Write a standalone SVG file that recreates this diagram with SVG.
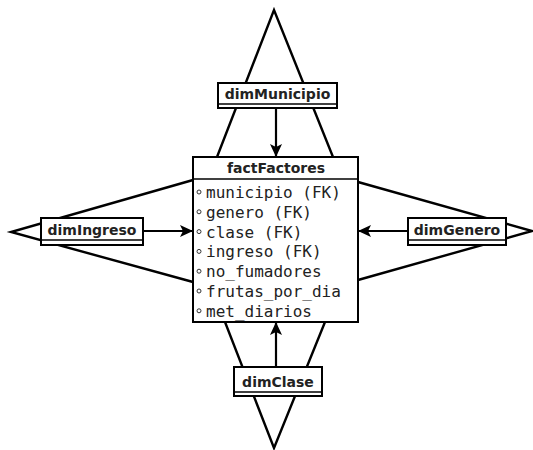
<svg xmlns="http://www.w3.org/2000/svg" width="533" height="450" viewBox="0 0 533 450">
  <defs>
    <style>
      .leg { fill: none; stroke: #000; stroke-width: 2.4; stroke-linejoin: miter; }
      .arr { fill: none; stroke: #000; stroke-width: 2.2; }
      .box { fill: #fff; stroke: #000; stroke-width: 2; }
      .sep { stroke: #000; stroke-width: 1.6; }
      .title { font-family: "DejaVu Sans", "Liberation Sans", sans-serif; font-weight: bold; font-size: 14px; fill: #222; text-anchor: middle; }
      .attr { font-family: "DejaVu Sans Mono", "Liberation Mono", monospace; font-size: 16px; fill: #222; }
      .dot { fill: #fff; stroke: #333; stroke-width: 1; }
    </style>
    <marker id="ah" markerWidth="14" markerHeight="12" refX="13" refY="6" orient="auto" markerUnits="userSpaceOnUse">
      <path d="M0,0 L13,6 L0,12 L3,6 Z" fill="#000"/>
    </marker>
  </defs>
  <rect width="533" height="450" fill="#fff"/>

  <g id="connectors">
    <polyline class="leg" points="217,157 274,10 333,157"/>
    <polyline class="leg" points="193,180 11,232 193,282"/>
    <polyline class="leg" points="358,182 532,231 358,280"/>
    <polyline class="leg" points="225,322 274,448 325,322"/>
    <line class="arr" x1="276" y1="108" x2="276" y2="157" marker-end="url(#ah)"/>
    <line class="arr" x1="276" y1="367" x2="276" y2="322" marker-end="url(#ah)"/>
    <line class="arr" x1="143" y1="231" x2="193" y2="231" marker-end="url(#ah)"/>
    <line class="arr" x1="408" y1="231" x2="358" y2="231" marker-end="url(#ah)"/>
  </g>

  <g id="factFactores">
    <rect class="box" x="193" y="157" width="165" height="165"/>
    <line class="sep" x1="193" y1="179" x2="358" y2="179"/>
    <text class="title" x="276" y="173">factFactores</text>
    <circle class="dot" cx="199" cy="192" r="2"/>
    <text class="attr" x="206" y="198">municipio (FK)</text>
    <circle class="dot" cx="199" cy="211.8" r="2"/>
    <text class="attr" x="206" y="217.8">genero (FK)</text>
    <circle class="dot" cx="199" cy="231.6" r="2"/>
    <text class="attr" x="206" y="237.6">clase (FK)</text>
    <circle class="dot" cx="199" cy="251.4" r="2"/>
    <text class="attr" x="206" y="257.4">ingreso (FK)</text>
    <circle class="dot" cx="199" cy="271.2" r="2"/>
    <text class="attr" x="206" y="277.2">no_fumadores</text>
    <circle class="dot" cx="199" cy="291" r="2"/>
    <text class="attr" x="206" y="297">frutas_por_dia</text>
    <circle class="dot" cx="199" cy="310.8" r="2"/>
    <text class="attr" x="206" y="316.8">met_diarios</text>
  </g>

  <g id="dimMunicipio">
    <rect class="box" x="218" y="83" width="119" height="25"/>
    <line class="sep" x1="218" y1="104" x2="337" y2="104"/>
    <text class="title" x="277.5" y="99">dimMunicipio</text>
  </g>

  <g id="dimIngreso">
    <rect class="box" x="41" y="218" width="102" height="27"/>
    <line class="sep" x1="41" y1="240" x2="143" y2="240"/>
    <text class="title" x="92" y="235">dimIngreso</text>
  </g>

  <g id="dimGenero">
    <rect class="box" x="408" y="218" width="98" height="27"/>
    <line class="sep" x1="408" y1="240" x2="506" y2="240"/>
    <text class="title" x="457" y="235">dimGenero</text>
  </g>

  <g id="dimClase">
    <rect class="box" x="234" y="367" width="88" height="29"/>
    <line class="sep" x1="234" y1="392" x2="322" y2="392"/>
    <text class="title" x="278" y="387">dimClase</text>
  </g>
</svg>
